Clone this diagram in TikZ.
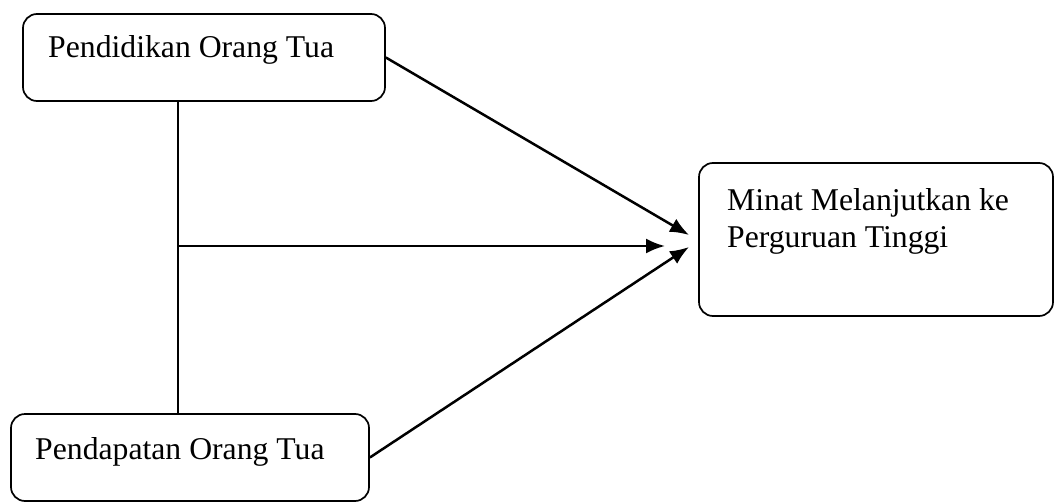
\documentclass[tikz,border=0pt]{standalone}
\usepackage{fontspec}
\setmainfont{Liberation Serif}
\usetikzlibrary{arrows.meta}
\begin{document}
\begin{tikzpicture}[x=1pt,y=-1pt,
  box/.style={draw,line width=1.7pt,rounded corners=14pt,inner sep=0pt},
  lbl/.style={anchor=base west,inner sep=0pt,font=\fontsize{31.7pt}{37pt}\selectfont},
  conn/.style={line width=2.5pt},
  arr/.style={conn,-{Latex[length=19pt,width=15pt]}}]
\useasboundingbox (0,0) rectangle (1055,503);
\node[box,minimum width=362pt,minimum height=87pt] (b1) at (204,57.5) {};
\node[box,minimum width=358pt,minimum height=87pt] (b2) at (190,457.5) {};
\node[box,minimum width=354pt,minimum height=153pt] (b3) at (876,239.5) {};
\node[lbl] (t1) at (48,58) {Pendidikan Orang Tua};
\node[lbl] (t2) at (35,459) {Pendapatan Orang Tua};
\node[lbl] (t3) at (727,210) {Minat Melanjutkan ke};
\node[lbl] (t4) at (727,247) {Perguruan Tinggi};
\coordinate (j) at (178,246);
\coordinate (e1) at (689,235);
\coordinate (e2) at (665,246);
\coordinate (e3) at (689,247);
\draw[line width=2pt] (b1.south -| j) -- (b2.north -| j);
\draw[arr] (b1.east) -- (e1);
\draw[arr] (j) -- (e2);
\draw[arr] (b2.east) -- (e3);
\end{tikzpicture}
\end{document}
